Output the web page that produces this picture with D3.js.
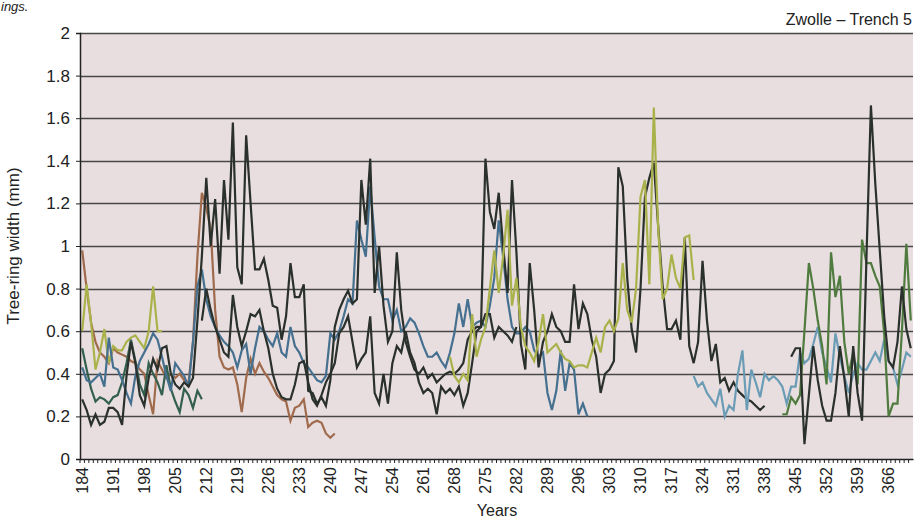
<!DOCTYPE html>
<html><head><meta charset="utf-8">
<script src="https://cdn.jsdelivr.net/npm/d3@7"></script>
<style>body{margin:0;background:#fff;} svg{display:block;font-family:"Liberation Sans",Arial,sans-serif;}</style>
</head><body><svg id="c" width="916" height="524"></svg>
<script>
// ---- data ----
const years = d3.range(184, 372);
const yTicks = [0, 0.2, 0.4, 0.6, 0.8, 1, 1.2, 1.4, 1.6, 1.8, 2];
const yTickLabels = ["0","0.2","0.4","0.6","0.8","1","1.2","1.4","1.6","1.8","2"];
const xLabelYears = [184,191,198,205,212,219,226,233,240,247,254,261,268,275,282,289,296,303,310,317,324,331,338,345,352,359,366];

const brownStart = 184;
const brown = [0.98,0.80,0.64,0.55,0.50,0.48,0.45,0.52,0.50,0.49,
  0.48,0.46,0.45,0.42,0.40,0.30,0.21,0.46,0.42,0.38,
  0.40,0.38,0.40,0.37,0.36,0.55,0.95,1.25,1.18,1.08,
  0.70,0.48,0.43,0.42,0.43,0.35,0.22,0.38,0.47,0.40,
  0.45,0.41,0.38,0.34,0.30,0.28,0.27,0.18,0.24,0.25,
  0.28,0.15,0.17,0.18,0.17,0.12,0.10,0.12];

const oliveEarlyStart = 184;
const oliveEarly = [0.60,0.82,0.64,0.42,0.50,0.61,0.45,0.53,0.51,0.51,0.55,0.57,0.58,0.55,0.52,0.60,0.81,0.60,0.60];

const tealStart = 184;
const teal = [0.52,0.42,0.33,0.27,0.29,0.28,0.26,0.29,0.30,0.36,
  0.45,0.56,0.46,0.35,0.30,0.45,0.40,0.36,0.30,0.44,
  0.33,0.27,0.22,0.33,0.30,0.24,0.32,0.28];

const blueStart = 184;
const blue = [0.43,0.37,0.36,0.38,0.40,0.34,0.57,0.43,0.42,0.37,
  0.31,0.26,0.39,0.46,0.50,0.54,0.59,0.56,0.48,0.39,
  0.32,0.45,0.42,0.39,0.34,0.55,0.81,0.89,0.75,0.67,
  0.62,0.58,0.55,0.53,0.50,0.43,0.51,0.54,0.40,0.52,
  0.62,0.60,0.56,0.53,0.59,0.50,0.48,0.62,0.53,0.50,
  0.45,0.43,0.40,0.37,0.36,0.39,0.59,0.56,0.60,0.67,
  0.75,0.73,1.12,1.03,0.95,1.28,1.04,0.81,0.75,0.75,
  0.65,0.70,0.60,0.62,0.66,0.64,0.59,0.53,0.48,0.48,
  0.50,0.46,0.43,0.50,0.59,0.73,0.62,0.75,0.62,0.64,
  0.65,0.62,0.72,0.85,1.12,0.95,0.75,0.62,0.59,0.59,
  0.62,0.60,0.51,0.48,0.50,0.31,0.23,0.32,0.51,0.32,
  0.45,0.42,0.21,0.26,0.20];

const darkAStart = 184;
const darkA = [0.28,0.23,0.16,0.21,0.16,0.175,0.24,0.24,0.22,0.16,
  0.39,0.55,0.45,0.30,0.25,0.38,0.47,0.42,0.52,0.53,
  0.40,0.35,0.33,0.36,0.34,0.38,0.65,0.95,1.32,1.00,
  1.22,0.87,1.31,1.03,1.58,0.90,0.82,1.52,1.20,0.89,
  0.89,0.94,0.84,0.72,0.71,0.56,0.67,0.92,0.76,0.76,
  0.82,0.32,0.31,0.26,0.29,0.25,0.37,0.62,0.70,0.75,
  0.79,0.73,0.75,1.31,1.10,1.41,0.78,1.00,0.72,0.55,
  0.60,0.97,0.70,0.55,0.48,0.42,0.40,0.43,0.38,0.40,
  0.36,0.38,0.40,0.41,0.40,0.42,0.45,
  0.56,0.60,0.62,0.62,1.41,1.16,1.08,1.25,1.00,0.78,
  1.31,0.97,0.54,0.42,0.92,0.70,0.43,0.55,0.60,0.68,
  0.62,0.60,0.55,0.55,0.82,0.61,0.73,0.68,0.56,0.48,
  0.31,0.40,0.42,0.46,1.37,1.28,0.85,0.61,0.50,0.80,
  1.23,1.32,1.39,1.09,0.81,0.61,0.61,0.65,0.56,1.04,
  0.53,0.45,0.55,0.93,0.65,0.46,0.54,0.36,0.38,0.32,
  0.36,0.32,0.30,0.28,0.27,0.25,0.23,0.25];

const darkBStart = 211;
const darkB = [0.65,0.80,0.70,0.62,0.56,0.50,0.48,0.77,0.62,0.53,
  0.60,0.68,0.67,0.70,0.60,0.52,0.40,0.33,0.29,0.28,
  0.28,0.35,0.45,0.46,0.36,0.28,0.25,0.30,0.36,0.40,
  0.45,0.59,0.62,0.67,0.55,0.43,0.47,0.50,0.67,0.31,
  0.26,0.40,0.26,0.45,0.53,0.50,0.60,0.50,0.45,0.36,
  0.31,0.33,0.31,0.21,0.34,0.31,0.33,0.30,0.34,0.25,
  0.31,0.45,0.60,0.62,0.68,0.68,0.57,0.62,0.60,0.58,0.55,0.62];

const oliveLateStart = 267;
const oliveLate = [0.48,0.39,0.36,0.40,0.37,0.68,0.48,0.56,0.62,0.80,
  0.98,0.78,0.95,1.17,0.72,0.85,0.62,0.53,0.50,0.46,
  0.55,0.68,0.50,0.52,0.54,0.50,0.47,0.46,0.43,0.44,
  0.44,0.43,0.50,0.57,0.50,0.62,0.65,0.60,0.66,0.92,
  0.70,0.64,0.80,1.23,1.31,0.82,1.65,1.08,0.75,0.80,
  0.96,0.85,0.80,1.04,1.05,0.84];

const lightBlueStart = 322;
const lightBlue = [0.39,0.34,0.36,0.31,0.28,0.25,0.33,0.20,0.25,0.23,
  0.40,0.51,0.23,0.42,0.36,0.29,0.40,0.37,0.39,0.37,
  0.34,0.26,0.34,0.34,0.50,0.45,0.47,0.54,0.62,0.50,
  0.43,0.36,0.59,0.48,0.39,0.31,0.40,0.45,0.42,0.42,
  0.46,0.50,0.46,0.56,0.46,0.43,0.35,0.42,0.50,0.48];

const greenStart = 342;
const green = [0.21,0.21,0.29,0.26,0.30,0.60,0.92,0.80,0.65,0.53,
  0.35,0.97,0.76,0.86,0.55,0.40,0.50,0.35,1.03,0.92,
  0.92,0.86,0.81,0.59,0.20,0.26,0.26,0.60,1.01,0.65];

const darkCStart = 344;
const darkC = [0.48,0.52,0.52,0.07,0.30,0.53,0.37,0.25,0.18,0.18,
  0.31,0.53,0.38,0.20,0.53,0.31,0.18,0.95,1.66,1.29,
  0.98,0.67,0.46,0.43,0.55,0.81,0.61,0.52];

const seriesList = [
  {start: brownStart, values: brown, color: "#a06a4c"},
  {start: oliveEarlyStart, values: oliveEarly, color: "#aab24c"},
  {start: tealStart, values: teal, color: "#33604e"},
  {start: blueStart, values: blue, color: "#45708f"},
  {start: darkBStart, values: darkB, color: "#2a302c"},
  {start: darkAStart, values: darkA, color: "#2a302c"},
  {start: oliveLateStart, values: oliveLate, color: "#a9b24a"},
  {start: lightBlueStart, values: lightBlue, color: "#6b9cb6"},
  {start: greenStart, values: green, color: "#4f7b3e"},
  {start: darkCStart, values: darkC, color: "#2a302c"}
];

// ---- chart ----
const svg = d3.select("#c");
const L = 80, R = 913, T = 33, B = 459;
const x = d3.scaleBand().domain(years).range([L, R]);
const y = d3.scaleLinear().domain([0, 2]).range([B, T]);
const bw = x.bandwidth();

svg.append("rect").attr("x", L).attr("y", T).attr("width", R - L).attr("height", B - T).attr("fill", "#e8dedf");

svg.append("g").selectAll("line").data(yTicks.filter(d => d > 0)).join("line")
  .attr("x1", L).attr("x2", R).attr("y1", d => Math.round(y(d)) + 0.5).attr("y2", d => Math.round(y(d)) + 0.5)
  .attr("stroke", "#474747").attr("stroke-width", 1.3);

const line = d3.line().x(d => x(d.yr) + bw / 2).y(d => y(d.v));
seriesList.forEach(s => {
  const pts = s.values.map((v, i) => ({yr: s.start + i, v}));
  svg.append("path").datum(pts).attr("d", line).attr("fill", "none")
    .attr("stroke", s.color).attr("stroke-width", 2.2).attr("stroke-linejoin", "miter");
});

// y axis
const yAxis = svg.append("g").attr("transform", `translate(${L},0)`)
  .call(d3.axisLeft(y).tickValues(yTicks).tickSize(4).tickPadding(6).tickFormat((d, i) => yTickLabels[i]));
yAxis.select(".domain").attr("stroke", "#222").attr("stroke-width", 1.5);
yAxis.selectAll(".tick line").attr("stroke", "#222");
yAxis.selectAll("text").attr("font-size", 17).attr("fill", "#222").attr("font-family", "Liberation Sans, Arial, sans-serif");

// x axis
const xAxis = svg.append("g").attr("transform", `translate(0,${B})`)
  .call(d3.axisBottom(x).tickValues(years).tickSize(4).tickSizeOuter(0)
    .tickFormat(d => xLabelYears.includes(d) ? String(d) : ""));
xAxis.select(".domain").attr("stroke", "#222").attr("stroke-width", 1.5);
xAxis.selectAll(".tick line").attr("stroke", "#222").attr("transform", `translate(${-bw / 2},0)`);
xAxis.selectAll(".tick text")
  .attr("transform", "rotate(-90)").attr("text-anchor", "end")
  .attr("x", -8).attr("y", 0).attr("dy", "0.35em")
  .attr("font-size", 16).attr("fill", "#222").attr("font-family", "Liberation Sans, Arial, sans-serif");

// titles
svg.append("text").attr("x", 497).attr("y", 516).attr("text-anchor", "middle")
  .attr("font-size", 16).attr("fill", "#222").text("Years");
svg.append("text").attr("transform", `translate(19,${(T + B) / 2}) rotate(-90)`).attr("text-anchor", "middle")
  .attr("font-size", 17).attr("fill", "#222").text("Tree-ring width (mm)");
svg.append("text").attr("x", 912).attr("y", 25).attr("text-anchor", "end")
  .attr("font-size", 16).attr("fill", "#222").text("Zwolle – Trench 5");
svg.append("text").attr("x", 1).attr("y", 11).attr("font-size", 13).attr("font-style", "italic")
  .attr("fill", "#222").text("ings.");
</script></body></html>
